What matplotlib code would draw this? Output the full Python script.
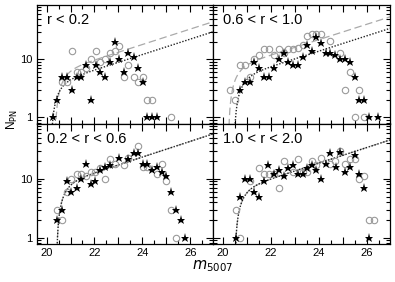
import numpy as np
import matplotlib
matplotlib.use("Agg")
import matplotlib.pyplot as plt
from matplotlib.ticker import MultipleLocator, LogLocator, FuncFormatter, NullFormatter

plt.rcParams['font.family'] = ['Liberation Sans', 'DejaVu Sans']

# ---------------- data ----------------
panel_labels = ["r < 0.2", "0.6 < r < 1.0", "0.2 < r < 0.6", "1.0 < r < 2.0"]

# r < 0.2
tl_star_m = [20.25, 20.45, 20.64, 20.84, 21.05, 21.25, 21.45, 21.64, 21.84, 22.05, 22.24, 22.45,
             22.64, 22.84, 23.03, 23.23, 23.42, 23.63, 23.82, 24.03, 24.21, 24.42, 24.61]
tl_star_n = [1, 2, 5, 5, 3, 5, 5, 8, 2, 8, 6, 5, 9, 20, 10, 6, 13, 11, 7, 4, 1, 1, 1]
tl_circ_m = [20.64, 20.84, 21.05, 21.25, 21.45, 21.64, 21.84, 22.05, 22.24, 22.45, 22.64, 22.84,
             23.03, 23.23, 23.42, 23.63, 23.82, 24.03, 24.21, 24.42, 25.2]
tl_circ_n = [4, 4, 14, 6, 6, 7, 10, 14, 9, 10, 13, 14, 17, 5, 8, 5, 4, 5, 2, 2, 1]

# 0.6 < r < 1.0
tr_star_m = [20.73, 20.93, 21.12, 21.32, 21.53, 21.72, 21.93, 22.13, 22.32, 22.53, 22.71, 22.92,
             23.12, 23.32, 23.52, 23.71, 23.89, 24.09, 24.28, 24.47, 24.67, 24.89, 25.09, 25.28,
             25.49, 25.68, 25.88, 26.07, 26.45]
tr_star_n = [3, 4, 4, 9, 7, 5, 5, 7, 10, 13, 9, 8, 8, 11, 18, 14, 24, 19, 13, 13, 12, 10, 10, 9,
             5, 2, 2, 1, 1]
tr_circ_m = [20.29, 20.52, 20.71, 20.93, 21.12, 21.32, 21.53, 21.72, 21.93, 22.13, 22.32, 22.53,
             22.71, 22.92, 23.12, 23.32, 23.52, 23.71, 23.89, 24.09, 24.47, 24.89, 25.09, 25.28,
             25.49, 25.68, 25.88]
tr_circ_n = [3, 2, 8, 8, 5, 10, 12, 15, 15, 12, 15, 13, 15, 15, 16, 18, 25, 27, 27, 27, 21, 13,
             3, 6, 1, 3, 1]

# 0.2 < r < 0.6
bl_star_m = [20.45, 20.64, 20.84, 21.04, 21.25, 21.45, 21.64, 21.84, 22.04, 22.24, 22.45, 22.64,
             23.03, 23.42, 23.63, 23.82, 24.03, 24.21, 24.42, 24.61, 24.8, 24.99, 25.2, 25.4,
             25.6, 25.8]
bl_star_n = [2, 3, 9, 6, 7, 10, 18, 8, 9, 14, 16, 17, 23, 22, 27, 27, 18, 18, 14, 16, 13, 11,
             6, 3, 2, 1]
bl_circ_m = [20.45, 20.64, 20.84, 21.04, 21.25, 21.45, 21.64, 21.84, 22.04, 22.24, 22.45, 22.64,
             22.84, 23.23, 23.42, 23.82, 24.03, 24.21, 24.61, 24.8, 24.99, 25.2, 25.4]
bl_circ_n = [3, 2, 6, 10, 12, 12, 11, 13, 13, 15, 10, 22, 18, 17, 23, 36, 16, 16, 12, 18, 9,
             3, 1]

# 1.0 < r < 2.0
br_star_m = [20.54, 20.74, 20.93, 21.13, 21.32, 21.53, 21.72, 21.9, 22.13, 22.32, 22.53, 22.71,
             22.92, 23.12, 23.32, 23.52, 23.71, 23.89, 24.09, 24.28, 24.47, 24.69, 24.89, 25.09,
             25.28, 25.49, 25.68, 25.88, 26.07]
br_star_n = [1, 5, 10, 10, 6, 5, 9, 17, 12, 14, 11, 15, 17, 12, 12, 15, 17, 14, 10, 18, 27, 16,
             29, 13, 16, 25, 12, 7, 1]
br_circ_m = [20.54, 20.74, 21.13, 21.53, 21.72, 21.93, 22.13, 22.32, 22.53, 22.92, 23.12, 23.32,
             23.52, 23.71, 23.89, 24.09, 24.47, 24.67, 24.89, 25.09, 25.28, 25.49, 25.68, 25.88,
             26.07, 26.27]
br_circ_n = [3, 1, 9, 15, 12, 12, 12, 7, 20, 13, 22, 13, 13, 20, 17, 23, 18, 20, 30, 18, 22, 22,
             10, 11, 2, 2]

# PNLF fit parameters: (cutoff m*, N at m=26.9) for dotted (stars) and dashed (circles)
dotted_fit = [(20.17, 29.5), (20.46, 33.8), (20.41, 57.0), (20.50, 45.0)]
dashed_fit = [(20.34, 44.0), (20.23, 53.5), (20.41, 57.0), (20.50, 45.0)]
M_REF = 26.9

panels = [
    (tl_star_m, tl_star_n, tl_circ_m, tl_circ_n),
    (tr_star_m, tr_star_n, tr_circ_m, tr_circ_n),
    (bl_star_m, bl_star_n, bl_circ_m, bl_circ_n),
    (br_star_m, br_star_n, br_circ_m, br_circ_n),
]


def pnlf(m, mstar, nref):
    return nref * np.exp(0.307 * (m - M_REF)) * (1 - np.exp(3 * (mstar - m)))


# ---------------- figure ----------------
W, H = 395, 282
fig = plt.figure(figsize=(W / 100, H / 100), dpi=100)

L, MID, R = 37, 213, 390
T, MIDY, B = 5, 123.5, 244
boxes = [
    (L, T, MID, MIDY), (MID, T, R, MIDY),
    (L, MIDY, MID, B), (MID, MIDY, R, B),
]

grey = '#9a9a9a'
for i, (x0, y0, x1, y1) in enumerate(boxes):
    ax = fig.add_axes([x0 / W, 1 - y1 / H, (x1 - x0) / W, (y1 - y0) / H])
    sm, sn, cm, cn = panels[i]

    ms_, nref = dashed_fit[i]
    mm = np.linspace(ms_ + 1e-4, 27.2, 600)
    ax.plot(mm, pnlf(mm, ms_, nref), color='#aaaaaa', lw=0.9, ls=(0, (6, 3)), zorder=1)
    ms_, nref = dotted_fit[i]
    mm = np.linspace(ms_ + 1e-4, 27.2, 600)
    ax.plot(mm, pnlf(mm, ms_, nref), color='#222222', lw=1.0, ls=(0, (1, 1.2)), zorder=1)

    ax.plot(cm, cn, 'o', mfc='none', mec=grey, ms=4.6, mew=0.8, zorder=2)
    ax.plot(sm, sn, '*', color='black', ms=6.6, mew=0, zorder=3)

    ax.set_yscale('log')
    ax.set_xlim(19.6, 26.95)
    ax.set_ylim(0.78, 87)
    ax.xaxis.set_major_locator(MultipleLocator(1))
    ax.xaxis.set_minor_locator(MultipleLocator(0.5))
    ax.xaxis.set_major_formatter(FuncFormatter(lambda v, p: f"{int(round(v))}" if int(round(v)) % 2 == 0 else ""))
    ax.yaxis.set_major_locator(LogLocator(base=10, numticks=5))
    ax.yaxis.set_minor_locator(LogLocator(base=10, subs=np.arange(2, 10), numticks=20))
    ax.yaxis.set_major_formatter(FuncFormatter(lambda v, p: f"{v:g}"))
    ax.yaxis.set_minor_formatter(NullFormatter())
    ax.tick_params(which='both', direction='in', top=True, right=True, labelsize=8, width=0.8,
                   pad=3)
    ax.tick_params(which='major', length=5)
    ax.tick_params(which='minor', length=3)
    for s in ax.spines.values():
        s.set_linewidth(0.9)
    if i in (0, 1):
        ax.tick_params(labelbottom=False)
    if i in (1, 3):
        ax.tick_params(labelleft=False)
    ax.text(0.055, 0.93, panel_labels[i], transform=ax.transAxes, ha='left', va='top',
            fontsize=10.5)

fig.text(12 / W, 1 - 120 / H, r'N$_{\rm PN}$', rotation=90, ha='center', va='center', fontsize=8.5)
fig.text(213 / W, 1 - 266 / H, r'$m_{\mathit{5007}}$', ha='center', va='center', fontsize=10.5)

fig.savefig('out.png', dpi=100)
